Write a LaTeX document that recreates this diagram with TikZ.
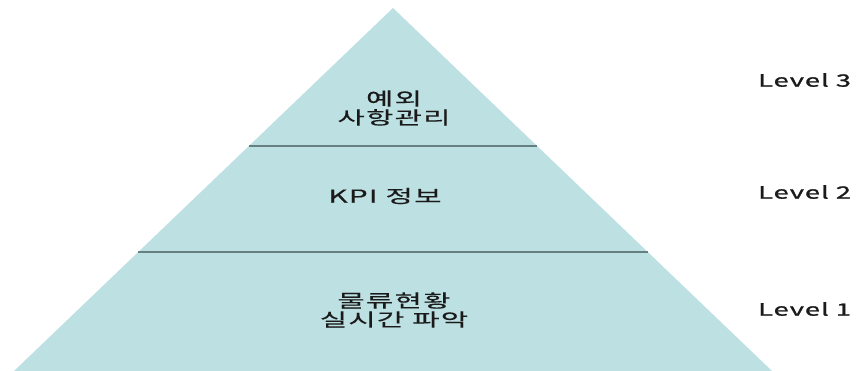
\documentclass[tikz,border=0pt]{standalone}
\usepackage{fontspec}
\usepackage{xcolor}
\usepackage{tikz}
\usetikzlibrary{calc,positioning}
\newfontfamily\krfont[FakeStretch=1.65,LetterSpace=7,FakeBold=0.3]{Noto Sans CJK KR}
\newfontfamily\lvfont[FakeStretch=1.6,LetterSpace=6,FakeBold=1.4]{Noto Sans CJK KR}
\definecolor{pyrfill}{HTML}{BDE0E2}
\definecolor{pyrline}{HTML}{667F80}
\definecolor{txtx}{HTML}{1A1A1A}
\tikzset{
  tier/.style={pyrline,line width=1.2pt},
  lab/.style={font=\krfont\fontsize{18}{19}\selectfont,align=center,text=txtx,inner sep=0pt},
  lvl/.style={font=\lvfont\fontsize{17}{18}\selectfont,anchor=west,text=txtx,inner sep=0pt}
}
\begin{document}
\begin{tikzpicture}[x=1pt,y=-1pt]
\useasboundingbox (0,0) rectangle (858,371);
\coordinate (top) at (393,8);
\coordinate (bl) at (14,371);
\coordinate (br) at (772,371);
\fill[pyrfill] (top)--(br)--(bl)--cycle;
% dividing lines
\coordinate (l3a) at ($(top)!0.380!(bl)$);
\coordinate (l3b) at ($(top)!0.380!(br)$);
\coordinate (l2a) at ($(top)!0.672!(bl)$);
\coordinate (l2b) at ($(top)!0.672!(br)$);
\draw[tier] (l3a)--(l3b);
\draw[tier] (l2a)--(l2b);
% texts
\node[lab] (t3) at (394,108) {예외\\사항관리};
\node[lab] (t2) at (385,196) {KPI 정보};
\node[lab] (t1) at (394,310) {물류현황\\실시간 파악};
\node[lvl] (v3) at (758,80) {Level 3};
\node[lvl] (v2) at (758,192) {Level 2};
\node[lvl] (v1) at (758,309) {Level 1};
\end{tikzpicture}
\end{document}
